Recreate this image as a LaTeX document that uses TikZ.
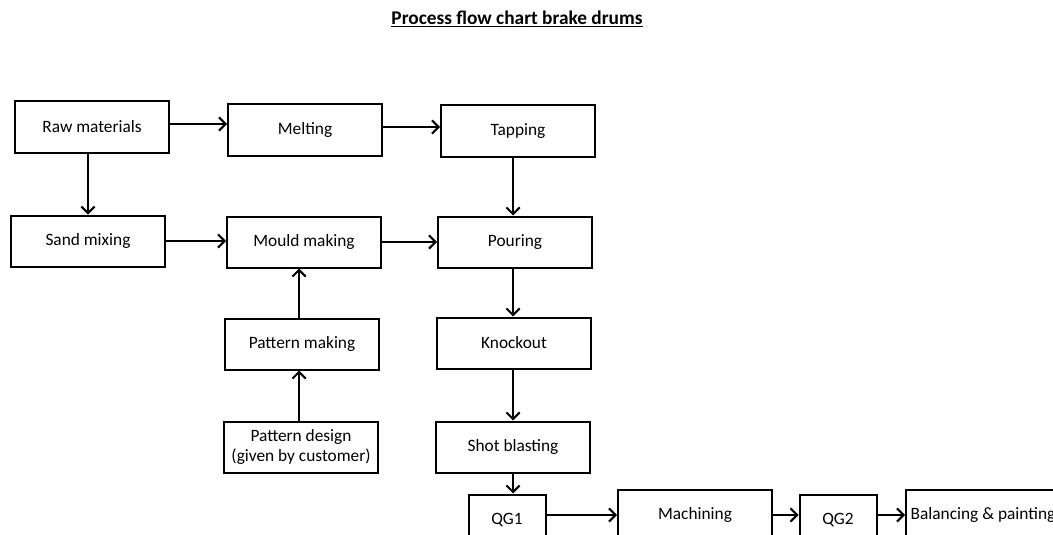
\documentclass[tikz,border=0pt]{standalone}
\usepackage{fontspec}
\setmainfont{Carlito}
\usetikzlibrary{arrows.meta,positioning}
\tikzset{
	flow chart/.style={
		x=0.75pt, y=-0.75pt,
		every node/.style={font=\fontsize{13pt}{15.5pt}\selectfont},
		fl/.style={draw, line width=1.5pt, -{Straight Barb[length=5pt,width=10pt]}}
		},
	stage/.style={draw, line width=1.5pt, minimum width=115.5pt, minimum height=38.25pt,
		inner sep=1pt, align=center},
	gate/.style={stage, minimum width=57.75pt}
}

\begin{document}
\begin{tikzpicture}[flow chart]
	\clip (0,0) rectangle (1053,535);
	\node[font=\fontsize{14.5pt}{17pt}\selectfont] (title) at (517,19) {\textbf{\underline{Process flow chart brake drums}}};
	% casting line
	\node[stage] (raw) at (92,127) {Raw materials};
	\node[stage] (melt) at (305,130) {Melting};
	\node[stage] (tap) at (518,131) {Tapping};
	\node[stage] (sand) at (88,241) {Sand mixing};
	\node[stage] (mould) at (304,242) {Mould making};
	\node[stage] (pour) at (515,242) {Pouring};
	\node[stage] (patm) at (302,344) {Pattern making};
	\node[stage] (knock) at (514,343) {Knockout};
	\node[stage] (patd) at (301,447) {Pattern design\\(given by customer)};
	\node[stage] (shot) at (513,447) {Shot blasting};
	% finishing line
	\node[gate] (qg1) at (507,520) {QG1};
	\node[stage] (mach) at (695,515) {Machining};
	\node[gate] (qg2) at (838,520) {QG2};
	\node[stage] (bal) at (983,515) {Balancing \& painting};
	\draw[fl] (raw.east |- 0,124) -- (melt.west |- 0,124);
	\draw[fl] (melt.east |- 0,127) -- (tap.west |- 0,127);
	\draw[fl] (raw.south -| sand) -- (sand);
	\draw[fl] (sand) -- (sand -| mould.west);
	\draw[fl] (mould) -- (mould -| pour.west);
	\draw[fl] (patm.north -| 299,0) -- (mould.south -| 299,0);
	\draw[fl] (patd.north -| 299,0) -- (patm.south -| 299,0);
	\draw[fl] (tap.south -| 513,0) -- (pour.north -| 513,0);
	\draw[fl] (pour.south -| 513,0) -- (knock.north -| 513,0);
	\draw[fl] (knock.south -| 513,0) -- (shot.north -| 513,0);
	\draw[fl] (shot.south -| 513,0) -- (qg1.north -| 513,0);
	\draw[fl] (qg1.east |- mach) -- (mach);
	\draw[fl] (mach) -- (mach -| qg2.west);
	\draw[fl] (qg2.east |- bal) -- (bal);
\end{tikzpicture}
\end{document}
